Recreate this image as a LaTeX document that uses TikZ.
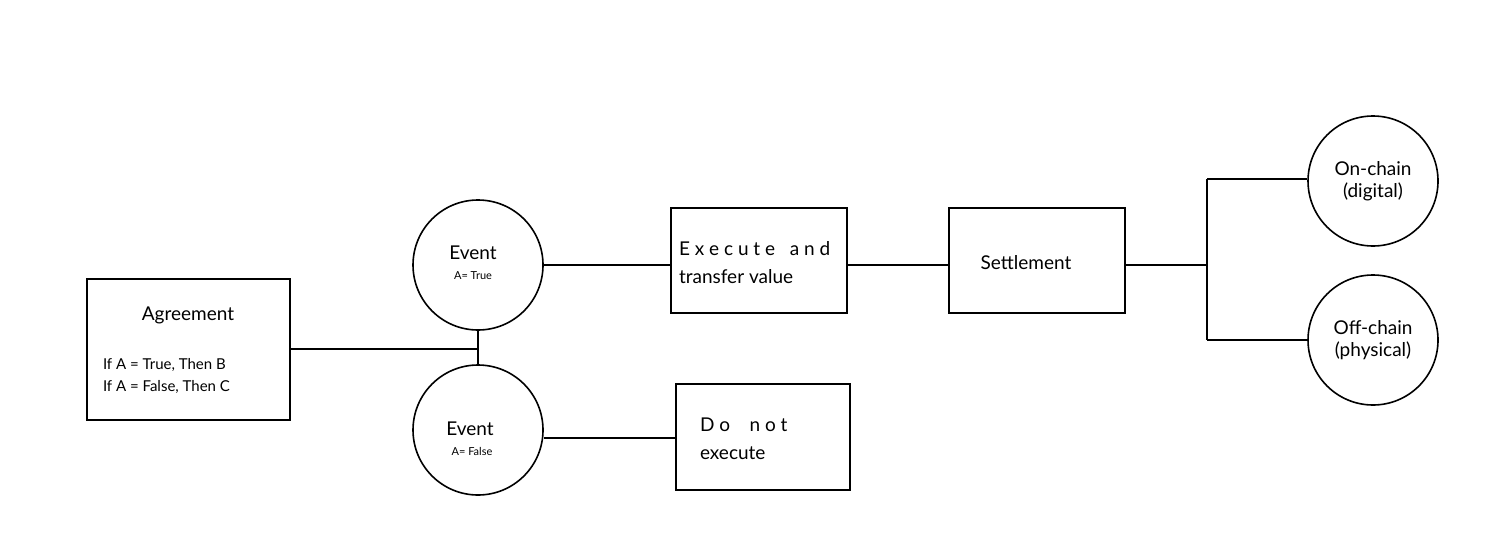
\documentclass[tikz,border=0pt]{standalone}
\usepackage{fontspec}
\setmainfont{Lato}
\begin{document}
\begin{tikzpicture}[x=1pt,y=-1pt,line width=2pt,
  box/.style={draw,rectangle,line width=2pt},
  circ/.style={draw,circle,minimum size=130pt,inner sep=0pt,line width=1.6pt},
  big/.style={font=\fontsize{19}{22}\selectfont}]
\useasboundingbox (0,0) rectangle (1511,546);
\node[box,minimum width=203pt,minimum height=141pt] (agr) at (188.5,349.5) {};
\node[big] (agrt) at (188,315) {Agreement};
\node[align=left,anchor=north west,font=\fontsize{15}{22}\selectfont,inner sep=0pt] (agrc) at (102,357) {If A = True, Then B\\If A = False, Then C};
\node[circ] (e1) at (478,265) {};
\node[big] (e1t) at (473,253) {Event};
\node[font=\fontsize{11}{12}\selectfont] (e1s) at (473,276) {A= True};
\node[circ] (e2) at (478,430) {};
\node[big] (e2t) at (470,429) {Event};
\node[font=\fontsize{11}{12}\selectfont] (e2s) at (472,451) {A= False};
\coordinate (j) at (478,349);
\draw (agr.east |- j) -- (j);
\draw (e1.south) -- (e2.north);
\node[box,minimum width=176pt,minimum height=105pt] (ex) at (759,260.5) {};
\node[big,anchor=west,inner sep=0pt] (ext1) at (678,249) {E x e c u t e \ \ a n d};
\node[big,anchor=west,inner sep=0pt] (ext2) at (678,277) {transfer value};
\draw (e1.east) -- (e1.east -| ex.west);
\node[box,minimum width=176pt,minimum height=105pt] (st) at (1037,260.5) {};
\node[big] (stt) at (1026,263) {Settlement};
\draw (ex.east |- 0,265) -- (st.west |- 0,265);
\coordinate (b) at (1207,265);
\draw (st.east |- b) -- (b);
\node[circ] (on) at (1373,181) {};
\node[big,align=center] (ont) at (1373,181) {On-chain\\(digital)};
\node[circ] (off) at (1373,340) {};
\node[big,align=center] (offt) at (1373,340) {Off-chain\\(physical)};
\coordinate (bt) at (1207,179);
\coordinate (bb) at (1207,340);
\draw (bt) -- (bb);
\draw (bt) -- (on.west |- bt);
\draw (bb) -- (off.west);
\node[box,minimum width=174pt,minimum height=106pt] (dn) at (763,437) {};
\node[big,anchor=west,inner sep=0pt] (dnt1) at (699,425) {D o \ \ \ n o t};
\node[big,anchor=west,inner sep=0pt] (dnt2) at (699,453) {execute};
\draw (e2.east |- 0,438) -- (dn.west |- 0,438);
\end{tikzpicture}
\end{document}
